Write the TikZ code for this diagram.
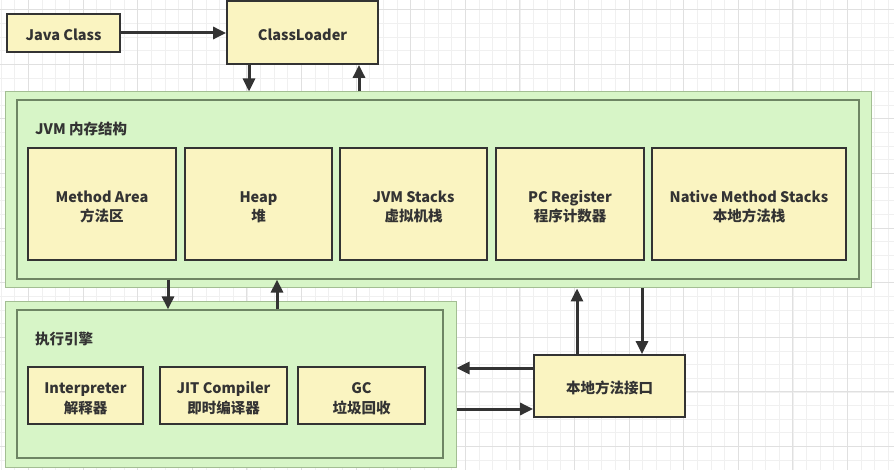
\documentclass[tikz,border=0pt]{standalone}
\usepackage{fontspec}
\setmainfont{Noto Sans CJK SC}
\usetikzlibrary{arrows.meta}
\definecolor{gridminor}{HTML}{F0F0F0}
\definecolor{gridmajor}{HTML}{E0E0E0}
\definecolor{boxyellow}{HTML}{FAF4C1}
\definecolor{boxgreen}{HTML}{D7F5C7}
\definecolor{edge}{HTML}{333333}
\definecolor{outeredge}{HTML}{A3BE93}
\definecolor{inneredge}{HTML}{6E8564}
\definecolor{txt}{HTML}{333333}
\newcommand{\twolines}[2]{\raisebox{-4pt}[\height][\depth]{\begin{tabular}{@{}c@{}}#1\\#2\end{tabular}}}
\newcommand{\oneline}[1]{\raisebox{-2pt}[\height][\depth]{#1}}
\begin{document}
\begin{tikzpicture}[x=1pt,y=-1pt,
  ybox/.style={draw=edge, line width=1.8pt, fill=boxyellow, inner sep=0pt, text=txt,
    font=\bfseries\fontsize{14.5}{19.5}\selectfont},
  gouter/.style={draw=outeredge, line width=1pt, fill=boxgreen, inner sep=0pt},
  ginner/.style={draw=inneredge, line width=1.2pt, fill=boxgreen, inner sep=0pt},
  arr/.style={draw=edge, line width=3pt, -{Triangle[length=13pt,width=12pt]}},
  lbl/.style={text=txt, font=\bfseries\fontsize{14.5}{19.5}\selectfont, anchor=west, inner sep=0pt}
]
\useasboundingbox (0,0) rectangle (894,470);
\fill[white] (0,0) rectangle (894,470);
% grid
\begin{scope}
\clip (0,0) rectangle (894,470);
\foreach \i in {0,...,66} {
  \draw[gridminor, line width=0.8pt] ({1.2+13.65*\i},0) -- ({1.2+13.65*\i},470);
}
\foreach \i in {-1,...,35} {
  \draw[gridminor, line width=0.8pt] (0,{9.7+13.65*\i}) -- (894,{9.7+13.65*\i});
}
\foreach \i in {0,...,16} {
  \draw[gridmajor, line width=0.9pt] ({28.5+54.6*\i},0) -- ({28.5+54.6*\i},470);
}
\foreach \i in {0,...,8} {
  \draw[gridmajor, line width=0.9pt] (0,{9.7+54.6*\i}) -- (894,{9.7+54.6*\i});
}
\end{scope}

% top nodes
\node[ybox, minimum width=113pt, minimum height=38pt] (jc) at (63.5,33) {\oneline{Java Class}};
\node[ybox, minimum width=151pt, minimum height=63pt] (cl) at (302.5,32.5) {\oneline{ClassLoader}};

% JVM memory structure
\node[gouter, minimum width=866pt, minimum height=196pt] (jvmo) at (438,190) {};
\node[ginner, minimum width=842pt, minimum height=179pt] (jvmi) at (438,189.5) {};
\node[lbl] (jvml) at (35,129) {JVM 内存结构};
\node[ybox, minimum width=148pt, minimum height=112pt] (ma) at (102,204) {\twolines{Method Area}{方法区}};
\node[ybox, minimum width=147pt, minimum height=112pt] (hp) at (258.5,204) {\twolines{Heap}{堆}};
\node[ybox, minimum width=147pt, minimum height=112pt] (js) at (413.5,204) {\twolines{JVM Stacks}{虚拟机栈}};
\node[ybox, minimum width=148pt, minimum height=112pt] (pc) at (570,204) {\twolines{PC Register}{程序计数器}};
\node[ybox, minimum width=194pt, minimum height=112pt] (nms) at (749,204) {\twolines{Native Method Stacks}{本地方法栈}};

% execution engine
\node[gouter, minimum width=451pt, minimum height=165pt] (exo) at (230.5,384.5) {};
\node[ginner, minimum width=426pt, minimum height=148pt] (exi) at (230,384) {};
\node[lbl] (exl) at (35,339) {执行引擎};
\node[ybox, minimum width=115pt, minimum height=57pt] (ip) at (85.5,395.5) {\twolines{Interpreter}{解释器}};
\node[ybox, minimum width=127pt, minimum height=57pt] (jit) at (223.5,395.5) {\twolines{JIT Compiler}{即时编译器}};
\node[ybox, minimum width=127pt, minimum height=57pt] (gc) at (361.5,395.5) {\twolines{GC}{垃圾回收}};

% native interface
\node[ybox, minimum width=151pt, minimum height=62pt] (ni) at (609.5,386) {\oneline{本地方法接口}};

% connector anchors
\coordinate (a1) at (249,0);
\coordinate (a2) at (359,0);
\coordinate (a3) at (168,0);
\coordinate (a4) at (277,0);
\coordinate (a5) at (577,0);
\coordinate (a6) at (642,0);
\coordinate (b1) at (0,368);
\coordinate (b2) at (0,409);

\draw[arr] (jc.east) -- (jc.east -| cl.west);
\draw[arr] (cl.south -| a1) -- (jvmo.north -| a1);
\draw[arr] (jvmo.north -| a2) -- (cl.south -| a2);
\draw[arr] (jvmi.south -| a3) -- (exi.north -| a3);
\draw[arr] (exi.north -| a4) -- (jvmi.south -| a4);
\draw[arr] (ni.north -| a5) -- (jvmo.south -| a5);
\draw[arr] (jvmo.south -| a6) -- (ni.north -| a6);
\draw[arr] (ni.west |- b1) -- (exo.east |- b1);
\draw[arr] (exo.east |- b2) -- (ni.west |- b2);
\end{tikzpicture}
\end{document}
